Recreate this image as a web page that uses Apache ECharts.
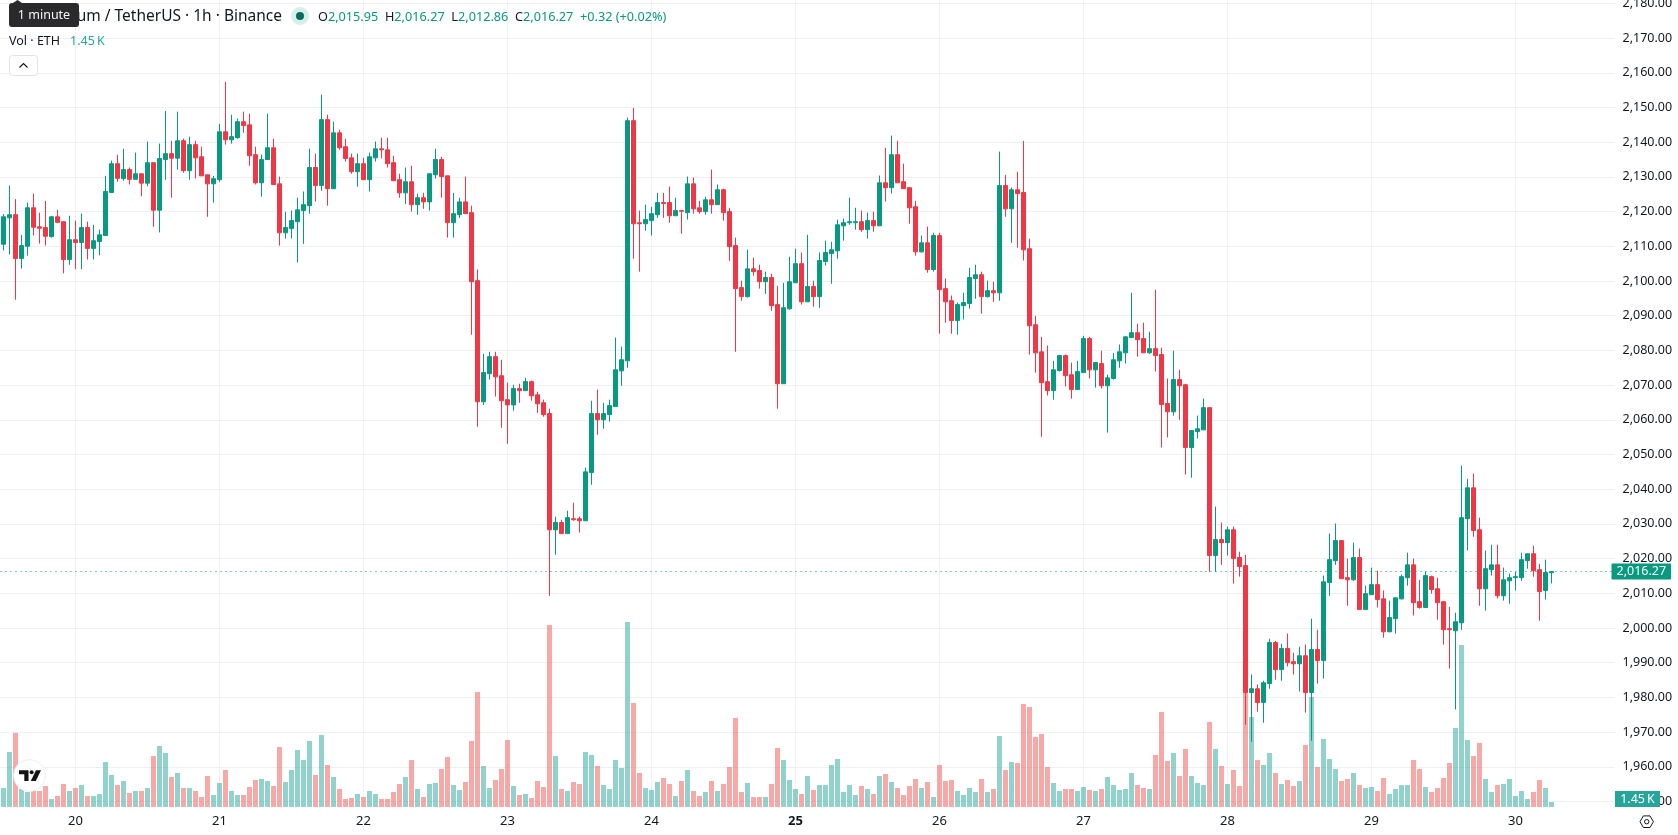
<!DOCTYPE html>
<html>
<head>
<meta charset="utf-8">
<title>Ethereum / TetherUS 1h</title>
<script src="https://cdn.jsdelivr.net/npm/echarts@6/dist/echarts.min.js"></script>
<style>
  html, body { margin: 0; padding: 0; background: #fff; }
  #chart { width: 1678px; height: 835px; }
</style>
</head>
<body>
<div id="chart"></div>
<script>
// Hourly ETH/USDT candles, oldest first
const opens = [
2110.6,2118.2,2119.1,2106.5,2110.0,2121.1,2115.6,2115.4,2112.8,2118.5,
2117.1,2106.2,2111.9,2111.1,2115.4,2109.4,2111.4,2113.1,2125.5,2133.8,
2129.5,2132.1,2129.3,2130.9,2128.2,2134.1,2120.4,2135.0,2136.7,2135.4,
2140.4,2131.8,2139.3,2135.8,2130.6,2128.0,2129.2,2143.0,2140.7,2141.3,
2145.9,2145.0,2136.4,2128.3,2135.0,2138.4,2128.0,2113.9,2115.1,2117.1,
2120.3,2121.7,2132.7,2127.5,2146.5,2126.6,2142.7,2138.7,2135.5,2131.5,
2133.8,2129.2,2135.5,2138.1,2137.8,2134.1,2129.2,2125.4,2128.6,2122.0,
2124.0,2122.8,2130.6,2135.0,2130.3,2116.8,2119.1,2122.8,2119.7,2100.1,
2065.2,2073.3,2078.2,2072.7,2065.8,2064.3,2069.0,2068.4,2071.0,2067.2,
2064.9,2061.8,2028.3,2030.4,2027.2,2031.5,2031.5,2030.9,2044.8,2061.8,
2060.0,2061.5,2063.8,2074.1,2077.0,2146.2,2116.8,2116.5,2117.4,2119.1,
2122.6,2122.6,2118.8,2120.3,2119.7,2128.0,2121.1,2120.0,2123.4,2122.0,
2126.3,2120.0,2110.2,2098.1,2095.5,2103.5,2103.0,2099.8,2101.0,2093.2,
2070.4,2092.0,2099.5,2105.0,2094.0,2098.4,2095.5,2105.6,2107.9,2108.7,
2115.9,2116.8,2116.8,2117.1,2114.8,2117.4,2115.9,2128.3,2126.9,2136.4,
2128.6,2126.9,2121.4,2108.4,2111.0,2103.3,2113.1,2097.8,2094.3,2088.6,
2092.9,2093.5,2100.7,2101.8,2095.5,2097.2,2096.6,2127.5,2120.8,2126.3,
2125.5,2109.3,2087.4,2079.6,2071.0,2068.4,2074.2,2078.5,2073.0,2068.7,
2073.6,2083.4,2074.4,2076.2,2069.8,2071.9,2077.0,2079.3,2083.7,2085.1,
2083.4,2079.3,2080.5,2078.8,2064.7,2062.3,2071.6,2070.1,2052.0,2056.6,
2057.1,2063.5,2020.9,2025.5,2024.6,2028.3,2020.3,2018.0,1981.4,1982.5,
1978.5,1984.0,1995.8,1988.0,1994.1,1990.3,1989.7,1992.0,1981.4,1993.8,
1990.6,2013.1,2019.4,2025.2,2014.5,2013.9,2020.3,2005.3,2009.6,2012.5,
2008.4,1998.9,2002.7,2008.4,2014.5,2018.2,2007.6,2005.9,2014.8,2011.3,
2007.6,1999.8,1999.2,2001.5,2031.5,2040.4,2028.3,2011.3,2016.8,2018.2,
2009.3,2013.6,2014.5,2014.5,2019.4,2021.4,2016.8,2010.8,2015.95];

const closes = [
2118.5,2119.1,2106.5,2110.2,2121.1,2115.5,2115.2,2112.9,2118.5,2116.9,
2106.2,2111.9,2111.1,2115.4,2109.4,2111.6,2113.3,2125.8,2133.8,2129.6,
2132.1,2129.3,2130.9,2128.2,2134.1,2120.4,2135.3,2136.7,2135.4,2140.4,
2131.8,2139.3,2135.5,2130.3,2128.0,2129.5,2143.0,2140.7,2141.6,2145.9,
2144.8,2136.1,2128.3,2135.0,2138.4,2127.8,2113.9,2115.4,2117.4,2120.5,
2122.0,2132.7,2127.5,2146.5,2126.6,2142.7,2138.4,2135.3,2131.5,2133.8,
2129.2,2135.8,2138.1,2137.8,2133.8,2128.9,2125.4,2128.6,2122.0,2124.0,
2122.8,2130.9,2135.0,2130.1,2116.8,2119.4,2122.8,2119.4,2099.8,2065.2,
2073.6,2078.2,2072.4,2065.5,2064.3,2069.0,2068.4,2071.0,2066.9,2064.6,
2061.5,2028.3,2030.4,2027.2,2031.8,2031.2,2030.9,2045.0,2061.8,2060.0,
2061.8,2064.1,2074.4,2077.3,2146.2,2116.5,2116.5,2117.7,2119.4,2122.6,
2122.3,2118.8,2120.3,2120.1,2128.0,2120.8,2120.0,2123.4,2122.0,2126.3,
2119.7,2109.9,2097.8,2095.5,2103.5,2102.7,2099.8,2101.0,2092.9,2070.4,
2092.3,2099.8,2105.0,2094.0,2098.4,2095.5,2105.9,2108.2,2109.0,2116.2,
2116.8,2117.1,2117.1,2114.8,2117.4,2115.9,2128.3,2126.9,2136.4,2128.3,
2126.6,2121.1,2108.4,2111.0,2103.3,2113.1,2097.5,2094.0,2088.6,2093.2,
2093.8,2101.0,2101.8,2095.5,2097.2,2096.6,2127.5,2120.8,2126.3,2125.2,
2109.0,2087.1,2079.3,2070.7,2068.4,2074.4,2078.5,2072.7,2068.7,2073.9,
2083.4,2074.4,2076.5,2069.8,2072.1,2077.3,2079.6,2083.9,2085.1,2083.1,
2079.3,2080.5,2078.5,2064.4,2062.3,2071.6,2069.8,2052.0,2056.9,2057.4,
2063.5,2020.9,2025.5,2024.6,2028.3,2020.0,2017.7,1981.4,1982.5,1978.5,
1984.2,1995.8,1988.0,1994.1,1990.0,1989.7,1992.0,1981.4,1993.8,1990.6,
2013.3,2019.7,2025.2,2014.2,2013.9,2020.3,2005.3,2009.9,2012.5,2008.2,
1998.9,2003.0,2008.7,2014.8,2018.2,2007.3,2005.9,2015.1,2011.1,2007.3,
1999.5,1999.5,2001.8,2031.8,2040.4,2028.1,2011.3,2017.1,2018.2,2009.3,
2013.9,2014.5,2014.8,2019.7,2021.4,2016.5,2010.5,2016.0,2016.27];

const lows = [
2108.8,2107.6,2094.6,2103.6,2107.3,2113.1,2110.8,2110.2,2112.5,2116.8,
2102.2,2104.7,2103.4,2103.4,2106.2,2106.2,2107.4,2113.1,2125.5,2128.6,
2128.9,2127.8,2129.3,2124.4,2127.3,2115.6,2114.0,2129.2,2124.0,2132.1,
2131.2,2129.2,2129.5,2130.3,2118.5,2122.6,2128.6,2139.3,2139.6,2141.0,
2142.7,2133.2,2127.8,2124.3,2135.0,2127.8,2110.2,2112.2,2112.2,2105.3,
2110.7,2119.4,2122.9,2126.0,2121.7,2126.6,2137.8,2134.4,2130.9,2127.2,
2129.2,2125.8,2134.4,2135.3,2132.7,2128.9,2124.0,2122.2,2120.0,2119.1,
2120.8,2120.3,2129.5,2124.0,2112.5,2112.5,2118.2,2119.4,2084.5,2058.0,
2064.3,2071.6,2066.7,2057.7,2053.1,2062.6,2064.9,2068.4,2065.5,2062.0,
2060.9,2009.3,2021.1,2027.2,2027.2,2030.9,2027.5,2030.9,2041.3,2055.7,
2057.4,2059.5,2063.8,2069.8,2075.0,2106.4,2102.7,2114.5,2113.1,2118.2,
2118.2,2116.8,2118.8,2113.6,2117.7,2119.4,2119.4,2119.1,2119.4,2122.0,
2117.4,2105.8,2079.6,2094.3,2095.2,2101.5,2097.8,2096.3,2091.4,2063.2,
2070.4,2091.7,2099.5,2093.2,2094.0,2092.6,2092.3,2104.4,2099.2,2106.4,
2111.6,2116.2,2114.8,2114.2,2112.2,2114.2,2115.9,2122.9,2125.2,2128.3,
2126.6,2116.5,2107.3,2108.2,2102.4,2102.7,2084.8,2088.0,2084.8,2084.5,
2088.9,2092.0,2094.9,2090.6,2095.2,2094.0,2094.3,2118.5,2111.0,2109.6,
2105.9,2078.8,2073.6,2055.1,2067.0,2065.8,2073.9,2069.6,2066.1,2068.7,
2073.6,2071.9,2069.3,2069.0,2056.3,2071.6,2075.0,2076.2,2083.7,2078.2,
2079.3,2079.0,2073.9,2052.0,2054.9,2061.2,2060.0,2044.2,2043.3,2054.6,
2057.1,2016.2,2016.2,2018.2,2020.9,2012.8,2014.8,1972.1,1967.2,1975.9,
1972.7,1982.5,1985.1,1984.8,1988.9,1986.6,1981.7,1975.6,1967.5,1984.0,
1985.4,2009.3,2018.2,2014.2,2006.4,2013.6,2005.3,2005.3,2009.6,2005.9,
1997.2,1998.9,1998.4,2008.2,2012.2,2003.6,2005.6,2005.9,2009.9,2002.4,
1995.2,1988.3,1976.5,1999.5,2022.3,2026.3,2006.4,2005.0,2015.1,2008.5,
2007.9,2007.0,2010.8,2013.6,2017.1,2014.8,2002.1,2008.2,2012.86];

const highs = [
2119.3,2127.5,2123.6,2113.3,2122.6,2125.2,2119.7,2123.1,2118.8,2120.5,
2117.1,2118.8,2117.4,2119.4,2117.1,2116.2,2114.8,2130.3,2134.7,2136.4,
2138.1,2132.7,2137.0,2130.9,2140.2,2134.1,2139.6,2149.0,2140.4,2148.8,
2141.0,2141.6,2140.4,2138.7,2130.6,2130.3,2145.3,2157.4,2147.9,2146.8,
2148.8,2148.2,2138.7,2136.4,2148.2,2141.0,2130.1,2120.0,2120.3,2124.0,
2125.8,2138.1,2136.7,2153.7,2147.9,2145.9,2143.6,2141.0,2136.7,2136.7,
2135.5,2137.0,2140.2,2141.3,2141.3,2136.1,2130.9,2132.7,2133.2,2125.2,
2125.4,2130.9,2138.1,2135.8,2130.3,2125.4,2124.0,2130.1,2121.7,2103.3,
2079.0,2079.6,2079.6,2077.3,2070.7,2070.1,2070.4,2072.1,2071.3,2068.1,
2065.8,2063.2,2032.1,2031.2,2033.8,2036.1,2032.1,2046.2,2065.5,2068.7,
2064.9,2065.8,2083.7,2081.1,2147.1,2149.9,2120.3,2122.0,2121.4,2125.4,
2125.4,2127.2,2124.0,2120.3,2130.1,2129.8,2123.1,2124.3,2132.1,2127.8,
2126.6,2121.1,2112.5,2100.1,2109.0,2106.7,2104.7,2102.7,2102.1,2098.6,
2099.5,2107.0,2109.3,2108.2,2113.3,2100.1,2108.2,2111.6,2111.3,2117.7,
2118.0,2124.0,2121.1,2120.3,2119.7,2120.0,2130.4,2138.4,2141.9,2140.4,
2133.8,2126.9,2123.1,2113.1,2115.7,2113.9,2113.9,2100.7,2095.8,2093.8,
2096.6,2103.8,2104.7,2102.7,2100.1,2099.8,2137.3,2130.6,2126.9,2131.5,
2140.4,2112.2,2090.0,2083.9,2081.4,2077.0,2078.5,2078.8,2076.5,2077.0,
2084.2,2083.9,2076.5,2079.9,2073.0,2079.3,2081.7,2084.2,2096.6,2087.7,
2088.0,2085.4,2097.5,2080.8,2071.9,2079.9,2074.4,2070.4,2056.9,2061.2,
2066.1,2063.5,2035.0,2030.4,2029.2,2029.2,2022.0,2021.1,1986.6,1983.7,
1984.8,1996.9,1996.3,1995.5,1998.4,1992.9,1994.6,1995.2,2002.7,1999.5,
2015.1,2027.2,2030.1,2025.2,2020.0,2024.6,2022.9,2012.2,2017.4,2016.5,
2010.8,2007.9,2008.7,2015.4,2021.7,2020.0,2013.9,2016.2,2015.1,2014.5,
2007.6,2006.1,2004.4,2046.8,2043.0,2044.5,2031.8,2022.3,2024.0,2024.0,
2017.4,2015.7,2016.2,2021.7,2021.4,2023.7,2018.5,2019.7,2016.27];

// Volume per candle, thousands of ETH
const volumes = [
5.51,15.96,21.47,5.22,4.35,4.64,4.64,6.09,2.32,3.19,
6.67,4.64,5.51,6.38,3.19,3.19,3.77,13.05,9.28,6.38,
7.54,4.06,4.64,4.64,5.51,14.80,17.70,15.67,8.70,9.86,
5.51,5.51,4.64,2.90,8.99,3.48,6.96,10.73,4.64,3.48,
3.48,5.80,7.83,8.12,7.54,6.09,17.41,7.25,10.73,16.54,
13.63,19.15,9.28,20.89,12.18,8.70,5.22,2.32,2.61,3.77,
2.90,4.64,3.77,2.32,2.32,4.35,6.67,8.70,13.63,5.22,
2.90,6.67,6.96,11.02,14.51,6.38,4.93,7.25,19.15,33.36,
11.89,5.51,7.83,11.02,19.44,6.09,3.48,3.77,2.61,7.54,
5.80,52.80,14.80,5.22,4.64,7.25,6.67,15.96,15.09,11.89,
6.38,5.22,13.63,11.31,53.67,30.17,9.86,5.51,4.93,7.25,
8.41,6.67,3.19,7.54,10.73,4.64,3.19,4.35,7.54,4.64,
6.67,11.60,25.82,4.35,6.96,2.90,2.90,2.90,6.67,17.12,
13.63,7.83,5.22,3.77,8.99,4.93,6.38,6.38,12.18,13.92,
4.35,6.38,3.48,6.09,5.22,3.77,8.99,9.57,7.25,5.51,
3.48,6.09,8.12,5.51,7.25,2.90,12.18,7.54,7.83,4.64,
3.48,5.51,4.35,8.12,4.35,5.22,20.60,10.73,13.05,12.76,
29.88,29.01,20.31,21.18,11.60,6.96,4.64,5.22,5.22,4.64,
5.80,4.93,4.64,5.22,8.70,6.38,4.93,5.22,9.86,6.38,
5.51,5.22,15.09,27.56,13.34,15.67,8.99,16.83,8.99,6.96,
6.38,24.66,16.83,11.89,6.67,10.73,6.09,33.36,26.11,13.63,
12.18,15.67,9.86,6.67,7.83,6.09,7.54,17.99,31.91,11.60,
19.73,13.92,11.02,7.54,8.12,9.86,6.38,5.51,5.80,4.64,
8.41,3.77,5.22,6.38,6.38,13.63,11.02,5.80,4.35,5.51,
8.41,12.76,22.92,47.00,19.44,14.80,18.57,8.12,4.35,6.38,
6.67,8.12,3.19,4.64,2.32,4.35,7.83,5.51,1.45];

const dayLabels = ['19','20','21','22','23','24','25','26','27','28','29','30'];
const lastPrice = 2016.27;
const lastVolumeText = '1.45\u2009K';

const FONT = '"Noto Sans", "Open Sans", sans-serif';
const UP = '#089981';
const DOWN = '#F23645';
const TEXT = '#131722';
const GRIDLINE = '#eff0f3';
const TAG = '#26a69a';

const BAND = 6;            // px per hour
const SLOTS = 269;         // hours the pane can hold, including empty ones on the right
const PANE_LEFT = 0.5;
const categories = Array.from({ length: SLOTS }, (_, i) => String(i));

const formatPrice = v => v.toLocaleString('en-US', { minimumFractionDigits: 2, maximumFractionDigits: 2 });

const candleData = opens.map((o, i) => [o, closes[i], lows[i], highs[i]]);
const volumeData = volumes.map((v, i) => ({
  value: v,
  itemStyle: { color: closes[i] >= opens[i] ? 'rgba(38,166,154,0.5)' : 'rgba(239,83,80,0.5)' }
}));

const chart = echarts.init(document.getElementById('chart'), null, { renderer: 'canvas' });

chart.setOption({
  animation: false,
  backgroundColor: '#ffffff',
  textStyle: { fontFamily: FONT },
  grid: [
    // day gridlines and date labels; hour 0 of the 19th falls left of the pane
    { left: PANE_LEFT + 3 - 72, width: 1681.5, top: 0, height: 807, outerBoundsMode: 'none' },
    // volume pane
    { left: PANE_LEFT, width: BAND * SLOTS, top: 0, height: 807, outerBoundsMode: 'none' },
    // price pane
    { left: PANE_LEFT, width: BAND * SLOTS, top: 3.4, height: 798.1, outerBoundsMode: 'none' }
  ],
  xAxis: [
    {
      gridIndex: 0, type: 'value', min: 0, max: 280.25, interval: 24,
      axisLine: { show: false }, axisTick: { show: false },
      splitLine: { show: true, showMaxLine: false, lineStyle: { color: GRIDLINE, width: 1 } },
      axisLabel: {
        showMaxLabel: false, margin: 8, fontSize: 13, color: TEXT, fontFamily: FONT,
        formatter: v => {
          const label = dayLabels[v / 24];
          if (label === undefined) return '';
          return label === '25' ? '{strong|' + label + '}' : label;
        },
        rich: { strong: { fontWeight: 'bold', fontSize: 13, color: TEXT, fontFamily: FONT } }
      }
    },
    { gridIndex: 1, type: 'category', data: categories, show: false },
    { gridIndex: 2, type: 'category', data: categories, show: false }
  ],
  yAxis: [
    { gridIndex: 0, type: 'value', show: false, min: 0, max: 1 },
    { gridIndex: 1, type: 'value', show: false, min: 0, max: 234 },
    {
      gridIndex: 2, type: 'value', position: 'right', min: 1950, max: 2180, interval: 10,
      axisLine: { show: false }, axisTick: { show: false },
      splitLine: { show: true, lineStyle: { color: GRIDLINE, width: 1 } },
      axisLabel: { margin: 8, fontSize: 12.5, color: TEXT, fontFamily: FONT, padding: [0, 0, 3, 0], formatter: formatPrice }
    }
  ],
  series: [
    {
      type: 'bar', name: 'Volume', xAxisIndex: 1, yAxisIndex: 1, z: 2,
      barWidth: 5, data: volumeData, silent: true
    },
    {
      type: 'line', name: 'Last price', xAxisIndex: 2, yAxisIndex: 2, z: 3,
      data: [], silent: true,
      markLine: {
        silent: true, symbol: 'none', animation: false,
        lineStyle: { color: UP, type: [1, 4], width: 1, opacity: 1 },
        label: {
          show: true, position: 'end', distance: -3,
          formatter: p => formatPrice(p.value),
          color: '#fff', fontSize: 12.5, fontFamily: FONT,
          backgroundColor: UP, padding: [2, 5, 1, 5], borderRadius: 1
        },
        data: [{ yAxis: lastPrice }]
      }
    },
    {
      type: 'candlestick', name: 'ETHUSDT', xAxisIndex: 2, yAxisIndex: 2, z: 4,
      barWidth: 4, data: candleData, silent: true, clip: false,
      itemStyle: { color: UP, color0: DOWN, borderColor: UP, borderColor0: DOWN, borderWidth: 1 }
    }
  ],
  graphic: [
    // symbol line, partly under the hover tooltip
    { type: 'text', x: 282, y: 16.5, z: 100,
      style: { text: 'Ethereum / TetherUS \u00b7 1h \u00b7 Binance', align: 'right', verticalAlign: 'middle',
               font: '15.5px ' + FONT, fill: TEXT } },
    // market status dot
    { type: 'circle', shape: { cx: 300, cy: 16, r: 9 }, z: 100, style: { fill: '#d6efea' } },
    { type: 'circle', shape: { cx: 300, cy: 16, r: 4 }, z: 101, style: { fill: '#086b5b' } },
    // OHLC readout
    { type: 'text', x: 318, y: 17, z: 100,
      style: {
        text: '{k|O}{v|2,015.95}  {k|H}{v|2,016.27}  {k|L}{v|2,012.86}  {k|C}{v|2,016.27}  {v|+0.32 (+0.02%)}',
        verticalAlign: 'middle',
        rich: {
          k: { font: '12.7px ' + FONT, fill: TEXT },
          v: { font: '12.7px ' + FONT, fill: UP }
        }
      } },
    // volume legend
    { type: 'text', x: 9, y: 41, z: 100,
      style: { text: 'Vol \u00b7 ETH', verticalAlign: 'middle', font: '12.5px ' + FONT, fill: TEXT } },
    { type: 'text', x: 70, y: 41, z: 100,
      style: { text: lastVolumeText, verticalAlign: 'middle', font: '12.5px ' + FONT, fill: TAG } },
    // collapse button
    { type: 'rect', shape: { x: 9.5, y: 55.5, width: 28, height: 20, r: 3 }, z: 100,
      style: { fill: '#fff', stroke: '#e0e3eb', lineWidth: 1 } },
    { type: 'polyline', shape: { points: [[19.5, 67.5], [23.5, 63.5], [27.5, 67.5]] }, z: 101,
      style: { fill: 'none', stroke: TEXT, lineWidth: 1.2 } },
    // hover tooltip
    { type: 'polygon', shape: { points: [[13, 3], [17.5, 0], [22, 3]] }, z: 102, style: { fill: '#2a2a2c' } },
    { type: 'rect', shape: { x: 9, y: 3, width: 70, height: 24, r: 3 }, z: 102, style: { fill: '#2a2a2c' } },
    { type: 'text', x: 44, y: 15.5, z: 103,
      style: { text: '1 minute', align: 'center', verticalAlign: 'middle', font: '12.5px ' + FONT, fill: '#f5f5f5' } },
    // volume value tag
    { type: 'rect', shape: { x: 1615, y: 791, width: 45, height: 16 }, z: 100, style: { fill: TAG } },
    { type: 'text', x: 1637.5, y: 799.5, z: 101,
      style: { text: lastVolumeText, align: 'center', verticalAlign: 'middle', font: '12.5px ' + FONT, fill: '#fff' } },
    // platform badge
    { type: 'circle', shape: { cx: 29.5, cy: 775.5, r: 16 }, z: 100,
      style: { fill: '#fff', stroke: '#eceef2', lineWidth: 1 } },
    { type: 'polygon', shape: { points: [[19, 770.3], [28.5, 770.3], [28.5, 781], [24.3, 781], [24.3, 774.3], [19, 774.3]] }, z: 101,
      style: { fill: '#131313' } },
    { type: 'circle', shape: { cx: 31.6, cy: 772.3, r: 2 }, z: 101, style: { fill: '#131313' } },
    { type: 'polygon', shape: { points: [[36, 770.3], [41, 770.3], [35.8, 781], [30.8, 781]] }, z: 101,
      style: { fill: '#131313' } },
    // settings gear at the axis corner
    { type: 'polygon', shape: { points: [[1640, 821.7], [1643.4, 815.9], [1650, 815.9], [1653.4, 821.7], [1650, 827.5], [1643.4, 827.5]] }, z: 100,
      style: { fill: 'none', stroke: TEXT, lineWidth: 1 } },
    { type: 'circle', shape: { cx: 1646.7, cy: 821.7, r: 2.2 }, z: 100,
      style: { fill: 'none', stroke: TEXT, lineWidth: 1 } }
  ]
});
</script>
</body>
</html>
